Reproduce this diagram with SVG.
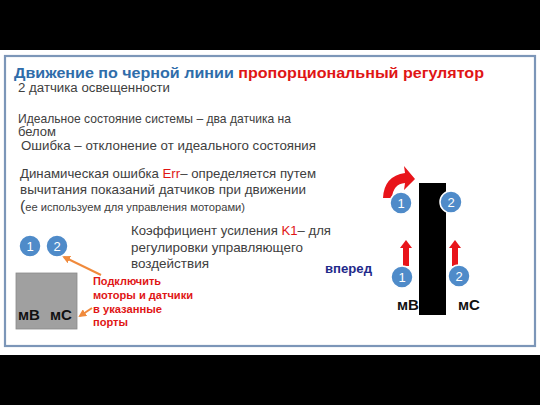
<svg xmlns="http://www.w3.org/2000/svg" width="540" height="405" viewBox="0 0 540 405">
<style>
.t{font-family:"Liberation Sans",Arial,sans-serif;fill:#404040}
.ttl{font-family:"Liberation Sans",Arial,sans-serif;font-weight:bold;font-size:15px}
.red{fill:#E01515}
.rb{font-family:"Liberation Sans",Arial,sans-serif;font-weight:bold;font-size:10.5px;fill:#E01515}
.num{font-family:"Liberation Sans",Arial,sans-serif;font-size:13px;fill:#fff;text-anchor:middle}
.circ{fill:#4F8BC9;stroke:#fff;stroke-width:1.5}
.m{font-family:"Liberation Sans",Arial,sans-serif;font-weight:bold;font-size:15px;fill:#111}
.oarr{stroke:#F08A3C;stroke-width:2;fill:none}
</style>
<defs>
<marker id="oh" markerWidth="8" markerHeight="8" refX="6" refY="4" orient="auto" markerUnits="userSpaceOnUse" viewBox="0 0 8 8">
<path d="M0,0 L8,4 L0,8 Z" fill="#F08A3C"/>
</marker>
</defs>
<rect x="0" y="0" width="540" height="405" fill="#000"/>
<rect x="0" y="50" width="540" height="305" fill="#fff"/>
<rect x="5" y="56" width="530" height="290" fill="none" stroke="#7C96B8" stroke-width="2.2"/>

<text class="ttl" x="14" y="78" textLength="470" lengthAdjust="spacingAndGlyphs"><tspan fill="#2F6DAA">Движение по черной линии </tspan><tspan fill="#E01515">пропорциональный регулятор</tspan></text>
<text class="t" x="18" y="92" font-size="12.5" textLength="152" lengthAdjust="spacingAndGlyphs">2 датчика освещенности</text>
<text class="t" x="18" y="123" font-size="13" textLength="273" lengthAdjust="spacingAndGlyphs">Идеальное состояние системы – два датчика на</text>
<text class="t" x="18" y="136" font-size="13" textLength="38" lengthAdjust="spacingAndGlyphs">белом</text>
<text class="t" x="21" y="150" font-size="13" textLength="295" lengthAdjust="spacingAndGlyphs">Ошибка – отклонение от идеального состояния</text>
<text class="t" x="20" y="178" font-size="13" textLength="296" lengthAdjust="spacingAndGlyphs">Динамическая ошибка <tspan class="red">Err</tspan>– определяется путем</text>
<text class="t" x="20" y="194" font-size="13" textLength="286" lengthAdjust="spacingAndGlyphs">вычитания показаний датчиков при движении</text>
<text class="t" x="20" y="211" textLength="225" lengthAdjust="spacingAndGlyphs"><tspan font-size="15">(</tspan><tspan font-size="10.5">ее используем для управления моторами)</tspan></text>
<text class="t" x="131" y="235" font-size="13" textLength="200" lengthAdjust="spacingAndGlyphs">Коэффициент усиления <tspan class="red">K1</tspan>– для</text>
<text class="t" x="131" y="252" font-size="13" textLength="172" lengthAdjust="spacingAndGlyphs">регулировки управляющего</text>
<text class="t" x="131" y="268" font-size="13" textLength="78" lengthAdjust="spacingAndGlyphs">воздействия</text>

<g id="robot-left">
<rect x="16" y="273" width="61" height="56" fill="#A0A0A0" stroke="#8a8a8a" stroke-width="0.8"/>
<text class="m" x="18" y="320">мВ</text>
<text class="m" x="50" y="320">мС</text>
</g>
<g id="sensor-left-1"><circle class="circ" cx="30" cy="246" r="11"/><text class="num" x="30" y="251">1</text></g>
<g id="sensor-left-2"><circle class="circ" cx="57" cy="246" r="11"/><text class="num" x="57" y="251">2</text></g>

<g id="note">
<text class="rb" x="93" y="285" textLength="68" lengthAdjust="spacingAndGlyphs">Подключить</text>
<text class="rb" x="93" y="299" textLength="100" lengthAdjust="spacingAndGlyphs">моторы и датчики</text>
<text class="rb" x="93" y="313" textLength="69" lengthAdjust="spacingAndGlyphs">в указанные</text>
<text class="rb" x="93" y="326" textLength="35" lengthAdjust="spacingAndGlyphs">порты</text>
</g>

<g id="connectors">
<line class="oarr" x1="101" y1="275" x2="64" y2="257" marker-end="url(#oh)"/>
<line class="oarr" x1="92" y1="308" x2="80" y2="316" marker-end="url(#oh)"/>
</g>

<g id="line-track">
<rect x="419" y="183" width="27" height="132" fill="#000"/>
</g>

<g id="red-arrows">
<path d="M403,266 L403,248 L400,248 L406,240 L412,248 L409,248 L409,266 Z" fill="#E8141A"/>
<path d="M452,266 L452,248 L449,248 L455,240 L461,248 L458,248 L458,266 Z" fill="#E8141A"/>
<path d="M383,198 Q384,176 405,173 L404,166 L415,179 L404,190 L405,183 Q393,184 392,198 Z" fill="#E8141A"/>
</g>

<g id="sensor-right-top-1"><circle class="circ" cx="401" cy="203" r="11"/><text class="num" x="401" y="208">1</text></g>
<g id="sensor-right-top-2"><circle class="circ" cx="451" cy="202" r="11"/><text class="num" x="451" y="207">2</text></g>
<g id="sensor-right-bot-1"><circle class="circ" cx="402" cy="277" r="11"/><text class="num" x="402" y="282">1</text></g>
<g id="sensor-right-bot-2"><circle class="circ" cx="459" cy="276" r="11"/><text class="num" x="459" y="281">2</text></g>

<text x="325" y="273" font-family="Liberation Sans,Arial,sans-serif" font-weight="bold" font-size="12" fill="#1F2A8A" textLength="47" lengthAdjust="spacingAndGlyphs">вперед</text>
<text class="m" x="397" y="310">мВ</text>
<text class="m" x="458" y="310">мС</text>
</svg>
